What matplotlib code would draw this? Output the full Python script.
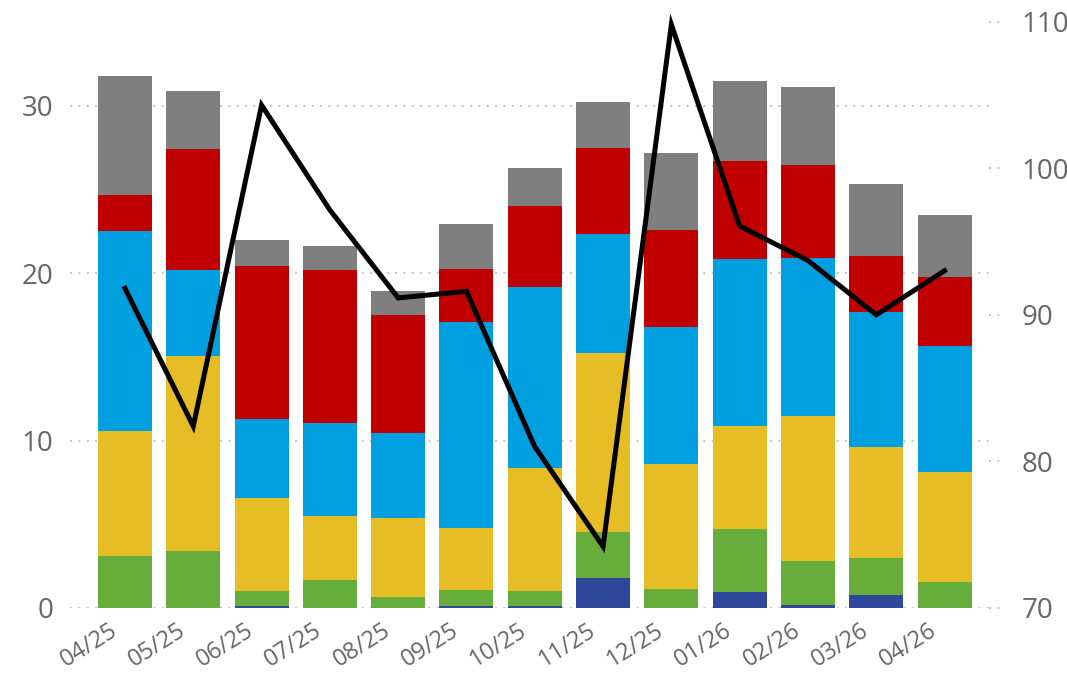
import matplotlib
matplotlib.use("Agg")
import matplotlib.pyplot as plt
import matplotlib.transforms as mtransforms
import numpy as np

plt.rcParams["font.family"] = ["Open Sans", "DejaVu Sans"]

months = ["04/25", "05/25", "06/25", "07/25", "08/25", "09/25", "10/25",
          "11/25", "12/25", "01/26", "02/26", "03/26", "04/26"]

# stacked segments, bottom to top
navy = [0.0, 0.0, 0.1, 0.0, 0.0, 0.1, 0.1, 1.8, 0.0, 0.95, 0.2, 0.8, 0.0]
green = [3.1, 3.4, 0.9, 1.7, 0.65, 1.0, 0.9, 2.75, 1.15, 3.75, 2.6, 2.2, 1.55]
yellow = [7.5, 11.65, 5.6, 3.8, 4.7, 3.65, 7.35, 10.7, 7.45, 6.2, 8.65, 6.6, 6.55]
cyan = [11.9, 5.15, 4.7, 5.55, 5.1, 12.35, 10.85, 7.1, 8.2, 9.95, 9.45, 8.1, 7.55]
red = [2.2, 7.2, 9.15, 9.15, 7.05, 3.15, 4.8, 5.15, 5.8, 5.85, 5.55, 3.3, 4.1]
grey = [7.1, 3.5, 1.55, 1.4, 1.45, 2.7, 2.3, 2.7, 4.6, 4.8, 4.7, 4.35, 3.7]

# line on the secondary axis
line_vals = [91.8, 82.4, 104.3, 97.15, 91.15, 91.6, 81.0, 74.2, 109.8,
             96.05, 93.7, 90.0, 93.0]

segments = [navy, green, yellow, cyan, red, grey]
colors = ["#2e479b", "#67ad3c", "#e6bd24", "#009fdf", "#c00000", "#7f7f7f"]
label_color = "#666666"
grid_color = "#c8c8c8"

fig = plt.figure(figsize=(10.67, 6.73), dpi=100)
ax = fig.add_axes([0.0656, 0.0966, 0.867, 0.9034])
ax2 = ax.twinx()

x = np.arange(len(months))
bottom = np.zeros(len(months))
for vals, c in zip(segments, colors):
    ax.bar(x, vals, bottom=bottom, width=0.79, color=c, linewidth=0, zorder=2)
    bottom += np.array(vals)

ax2.plot(x, line_vals, color="black", linewidth=3.6, solid_joinstyle="miter",
         zorder=3)

ax.set_xlim(-0.805, 12.74)
ax.set_ylim(0, 36.32)
ax2.set_ylim(70, 111.47)

ax.set_yticks([0, 10, 20, 30])
ax2.set_yticks([70, 80, 90, 100, 110])
ax.grid(axis="y", color=grid_color, linestyle=(0, (1, 3)), linewidth=1.5,
        zorder=0)
ax.set_axisbelow(True)

for a in (ax, ax2):
    for s in a.spines.values():
        s.set_visible(False)

ax.tick_params(axis="y", length=0, pad=12, labelsize=20, labelcolor=label_color)
ax2.tick_params(axis="y", length=0, pad=19, labelsize=20, labelcolor=label_color)
ax.tick_params(axis="x", length=0, pad=2, labelsize=17, labelcolor=label_color)

# short dotted tick marks for the right axis
trans = mtransforms.blended_transform_factory(ax2.transAxes, ax2.transData)
for t in ax2.get_yticks():
    ax2.plot([0.993, 1.008], [t, t], transform=trans, color=grid_color,
             linestyle=(0, (1, 3)), linewidth=1.5, clip_on=False)

ax.set_xticks(x)
ax.set_xticklabels(months, rotation=32, ha="right", va="top",
                   rotation_mode="anchor")
shift = mtransforms.ScaledTranslation(-16 / 100, -8 / 100, fig.dpi_scale_trans)
for lbl in ax.get_xticklabels():
    lbl.set_transform(lbl.get_transform() + shift)

fig.savefig("out.png", dpi=100)
